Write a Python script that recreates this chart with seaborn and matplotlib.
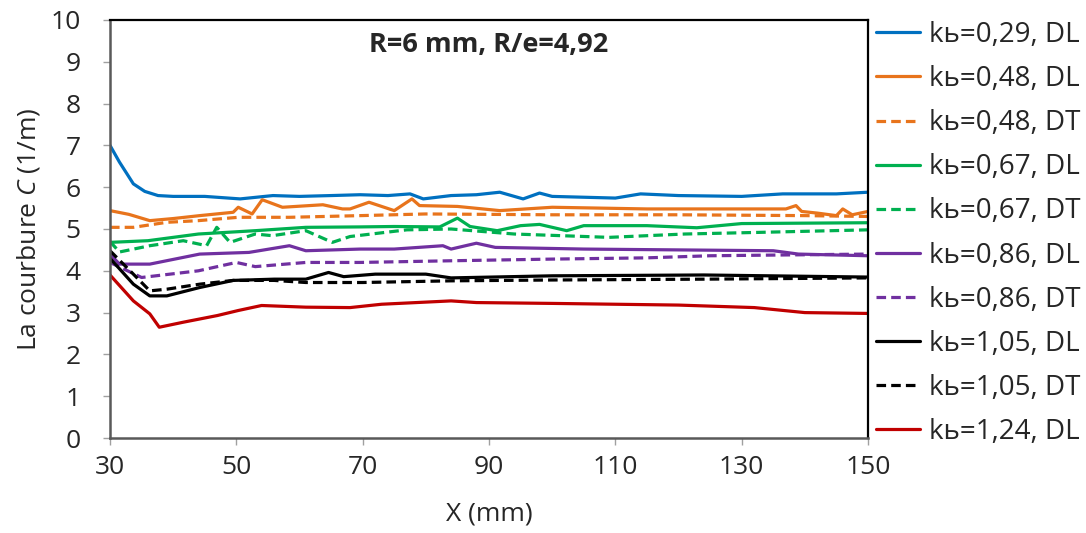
import numpy as np
import pandas as pd
import matplotlib
matplotlib.use("Agg")
import matplotlib.pyplot as plt
import seaborn as sns

# curvature C (1/m) against position X (mm)
x_029_dl = [30, 31.5, 33.7, 35.5, 37.6, 40, 45, 50.6, 55.8, 60, 65, 69.6, 74, 77.5, 79.6, 84, 88, 91.7, 95.4, 98, 100, 105, 110, 114, 120, 130, 136.5, 145, 150]
c_029_dl = [7.0, 6.6, 6.08, 5.9, 5.8, 5.78, 5.78, 5.72, 5.80, 5.78, 5.80, 5.82, 5.80, 5.84, 5.72, 5.80, 5.82, 5.88, 5.72, 5.86, 5.78, 5.76, 5.74, 5.84, 5.80, 5.78, 5.84, 5.84, 5.88]

x_048_dl = [30, 33, 36.3, 40, 44.2, 49.5, 50.3, 52.5, 54.1, 57.3, 63.7, 66.8, 68, 71, 75, 77.8, 79, 85, 91.7, 100, 115, 130, 137, 138.6, 139.5, 142, 145, 146, 147.5, 150]
c_048_dl = [5.44, 5.35, 5.20, 5.25, 5.32, 5.40, 5.52, 5.36, 5.70, 5.52, 5.58, 5.48, 5.48, 5.64, 5.44, 5.72, 5.56, 5.54, 5.44, 5.52, 5.48, 5.48, 5.48, 5.56, 5.42, 5.38, 5.32, 5.48, 5.34, 5.42]

x_048_dt = [30, 33.7, 39, 44, 50.3, 58.4, 69.6, 80, 100, 120, 140, 150]
c_048_dt = [5.04, 5.04, 5.16, 5.20, 5.28, 5.28, 5.32, 5.36, 5.34, 5.34, 5.32, 5.30]

x_067_dl = [30, 36, 44, 53, 61, 69.6, 75, 82.2, 85, 87, 91.3, 95, 98, 102.3, 105, 115, 122.9, 130, 140, 150]
c_067_dl = [4.68, 4.72, 4.88, 4.96, 5.04, 5.05, 5.06, 5.05, 5.26, 5.06, 4.96, 5.08, 5.11, 4.96, 5.08, 5.08, 5.03, 5.13, 5.14, 5.15]

x_067_dt = [30, 31.5, 36.3, 41.6, 45.3, 46.9, 49, 53, 55.7, 61, 65.2, 68, 77, 84, 94, 109, 121, 133, 150]
c_067_dt = [4.70, 4.45, 4.60, 4.72, 4.60, 5.04, 4.68, 4.88, 4.84, 4.96, 4.68, 4.82, 4.98, 5.0, 4.88, 4.80, 4.88, 4.92, 4.98]

x_086_dl = [30, 31.5, 36.3, 44.2, 52, 58.4, 61, 69.6, 75, 82.7, 84, 88, 91, 105, 120, 135, 139, 150]
c_086_dl = [4.40, 4.16, 4.16, 4.40, 4.44, 4.60, 4.48, 4.52, 4.52, 4.60, 4.52, 4.66, 4.56, 4.52, 4.50, 4.48, 4.40, 4.36]

x_086_dt = [30, 35, 44, 50, 53, 61, 69.6, 84, 100, 115, 125, 150]
c_086_dt = [4.20, 3.84, 4.00, 4.20, 4.10, 4.20, 4.20, 4.24, 4.28, 4.31, 4.36, 4.40]

x_105_dl = [30, 33.7, 36.3, 39, 44.2, 49.5, 56, 61, 64.6, 67, 72, 80, 84, 100, 124, 150]
c_105_dl = [4.30, 3.68, 3.40, 3.40, 3.60, 3.77, 3.80, 3.80, 3.96, 3.86, 3.92, 3.92, 3.83, 3.88, 3.90, 3.85]

x_105_dt = [30, 33.7, 36.3, 39, 44.2, 49.5, 56, 61, 70, 84, 100, 124, 150]
c_105_dt = [4.48, 3.92, 3.52, 3.56, 3.68, 3.77, 3.77, 3.72, 3.72, 3.76, 3.78, 3.80, 3.83]

x_124_dl = [30, 33.7, 36.3, 37.8, 41.6, 47, 50.3, 54, 61, 68, 73, 84, 88, 100, 120, 132, 140, 150]
c_124_dl = [3.90, 3.28, 2.97, 2.65, 2.77, 2.93, 3.05, 3.17, 3.13, 3.12, 3.20, 3.28, 3.24, 3.22, 3.18, 3.12, 3.00, 2.98]

labels = ["kь=0,29, DL", "kь=0,48, DL", "kь=0,48, DT", "kь=0,67, DL", "kь=0,67, DT",
          "kь=0,86, DL", "kь=0,86, DT", "kь=1,05, DL", "kь=1,05, DT", "kь=1,24, DL"]
xs = [x_029_dl, x_048_dl, x_048_dt, x_067_dl, x_067_dt, x_086_dl, x_086_dt, x_105_dl, x_105_dt, x_124_dl]
cs = [c_029_dl, c_048_dl, c_048_dt, c_067_dl, c_067_dt, c_086_dl, c_086_dt, c_105_dl, c_105_dt, c_124_dl]

colors = ["#0070C0", "#E8741C", "#E8741C", "#00B050", "#00B050",
          "#7030A0", "#7030A0", "#000000", "#000000", "#C00000"]
dashed = [False, False, True, False, True, False, True, False, True, False]

sns.set_theme(style="ticks")
plt.rcParams['font.family'] = ['Open Sans', 'DejaVu Sans']
plt.rcParams['mathtext.fontset'] = 'custom'
plt.rcParams['mathtext.it'] = 'Open Sans:italic'
plt.rcParams['mathtext.rm'] = 'Open Sans'

fig = plt.figure(figsize=(10.86, 5.33), dpi=100)
ax = fig.add_axes([110/1086, 1-438/533, 758/1086, 418/533])

for lab, x, c, col, d in zip(labels, xs, cs, colors, dashed):
    df = pd.DataFrame({"X": x, "C": c})
    ls = (0, (3, 1.6)) if d else "-"
    sns.lineplot(data=df, x="X", y="C", ax=ax, color=col, linestyle=ls,
                 lw=2.3, label=lab, estimator=None, sort=False)

ax.set_xlim(30, 150)
ax.set_ylim(0, 10)
ax.set_xticks(np.arange(30, 151, 20))
ax.set_yticks(np.arange(0, 11, 1))
ax.tick_params(axis="both", labelsize=19, length=5, width=1, color="#A0A0A0")
ax.tick_params(axis="y", pad=16)
ax.tick_params(axis="x", pad=7)

for side in ["top", "right"]:
    ax.spines[side].set_color("black")
    ax.spines[side].set_linewidth(1.6)
for side in ["left", "bottom"]:
    ax.spines[side].set_color("#595959")
    ax.spines[side].set_linewidth(1.8)

ax.set_xlabel("X (mm)", fontsize=19, labelpad=16)
ax.set_ylabel("La courbure $\\it{C}$ (1/m)", fontsize=19, labelpad=6)

ax.text(0.5, 0.94, "R=6 mm, R/e=4,92", transform=ax.transAxes,
        ha="center", va="center", fontsize=19.5, fontweight="bold")

ax.legend(loc="center left", bbox_to_anchor=(876/1086, 1-233.5/533),
          bbox_transform=fig.transFigure, frameon=False, fontsize=20,
          handlelength=1.6, handletextpad=0.3, labelspacing=0.58,
          borderpad=0, borderaxespad=0)

fig.savefig("out.png", dpi=100)
